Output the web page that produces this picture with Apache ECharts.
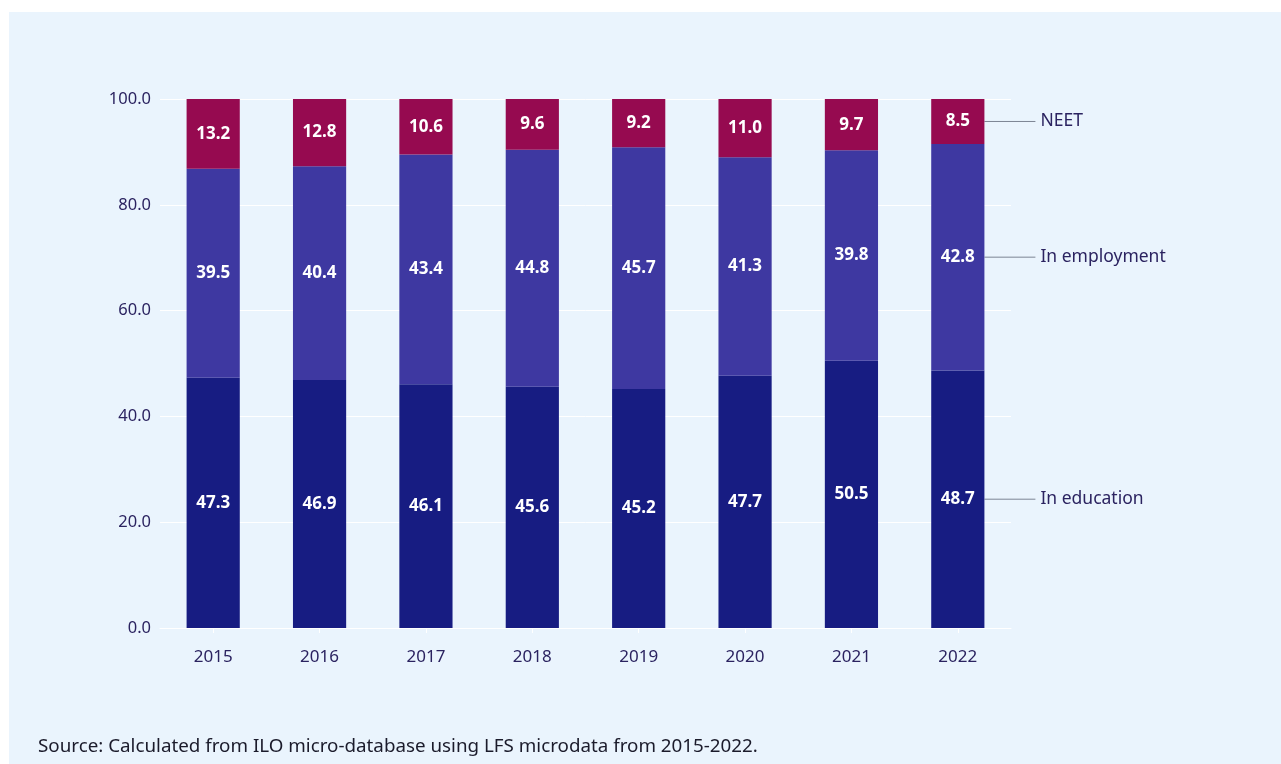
<!DOCTYPE html>
<html>
<head>
<meta charset="utf-8">
<script src="https://cdn.jsdelivr.net/npm/echarts@6/dist/echarts.min.js"></script>
<style>
  html, body { margin: 0; padding: 0; background: #ffffff; }
  #panel { position: absolute; left: 9px; top: 12px; width: 1272px; height: 752px; background: #EAF4FD; }
  #chart { position: absolute; left: 0; top: 0; width: 1281px; height: 764px; }
</style>
</head>
<body>
<div id="panel"></div>
<div id="chart"></div>
<script>
const years = ['2015', '2016', '2017', '2018', '2019', '2020', '2021', '2022'];
const inEducation = [47.3, 46.9, 46.1, 45.6, 45.2, 47.7, 50.5, 48.7];
const inEmployment = [39.5, 40.4, 43.4, 44.8, 45.7, 41.3, 39.8, 42.8];
const neet = [13.2, 12.8, 10.6, 9.6, 9.2, 11.0, 9.7, 8.5];
const seriesNames = ['In education', 'In employment', 'NEET'];
const yTicks = [0, 20, 40, 60, 80, 100];
const sourceText = 'Source: Calculated from ILO micro-database using LFS microdata from 2015-2022.';

const FONT = '"Noto Sans", "Open Sans", sans-serif';
const TEXT_COLOR = '#2B2360';
const colors = ['#171C82', '#3E38A1', '#960A50'];

const chart = echarts.init(document.getElementById('chart'), null, { renderer: 'canvas' });

const barLabel = {
  show: true,
  position: 'inside',
  color: '#ffffff',
  fontFamily: FONT,
  fontWeight: 'bold',
  fontSize: 17,
  formatter: p => p.value.toFixed(1)
};

const seriesData = [inEducation, inEmployment, neet];

const option = {
  backgroundColor: 'transparent',
  animation: false,
  grid: { left: 160, right: 270, top: 99, bottom: 136 },
  xAxis: {
    type: 'category',
    data: years,
    axisLine: { show: true, lineStyle: { color: '#ffffff', width: 1 } },
    axisTick: { show: true, alignWithLabel: true, length: 5, lineStyle: { color: '#ffffff' } },
    axisLabel: { color: TEXT_COLOR, fontFamily: FONT, fontSize: 17, margin: 21 }
  },
  yAxis: {
    type: 'value',
    min: yTicks[0],
    max: yTicks[yTicks.length - 1],
    interval: 20,
    axisLine: { show: false },
    axisTick: { show: false },
    splitLine: { show: true, lineStyle: { color: '#ffffff', width: 1 } },
    axisLabel: { color: TEXT_COLOR, fontFamily: FONT, fontSize: 16.5, margin: 9, formatter: v => v.toFixed(1) }
  },
  series: seriesNames.map((name, i) => ({
    name: name,
    type: 'bar',
    stack: 'total',
    barWidth: '50%',
    data: seriesData[i],
    itemStyle: { color: colors[i] },
    label: barLabel
  })),
  title: {
    text: sourceText,
    left: 33,
    top: 732,
    textStyle: { fontFamily: FONT, fontSize: 18.8, fontWeight: 'normal', color: '#1b1b2b' }
  }
};

chart.setOption(option);

// Right-side series annotations, positioned at the last bar via the chart's scales
function addAnnotations() {
  const last = years.length - 1;
  const p0 = chart.convertToPixel({ gridIndex: 0 }, [last, 0]);
  const p1 = chart.convertToPixel({ gridIndex: 0 }, [last - 1, 0]);
  const bandW = Math.abs(p0[0] - p1[0]);
  const barRight = p0[0] + bandW * 0.25;
  const elements = [];
  let cum = 0;
  seriesData.forEach((arr, i) => {
    const v = arr[last];
    const mid = cum + v / 2;
    cum += v;
    const y = chart.convertToPixel({ gridIndex: 0 }, [last, mid])[1];
    elements.push({
      type: 'line',
      shape: { x1: barRight, y1: y, x2: barRight + 51, y2: y },
      style: { stroke: '#7C8494', lineWidth: 1 },
      silent: true
    });
    elements.push({
      type: 'text',
      x: barRight + 56,
      y: y,
      style: {
        text: seriesNames[i],
        fill: TEXT_COLOR,
        font: '17.5px ' + FONT,
        verticalAlign: 'middle',
        align: 'left'
      },
      silent: true
    });
  });
  chart.setOption({ graphic: elements });
}
addAnnotations();
</script>
</body>
</html>
